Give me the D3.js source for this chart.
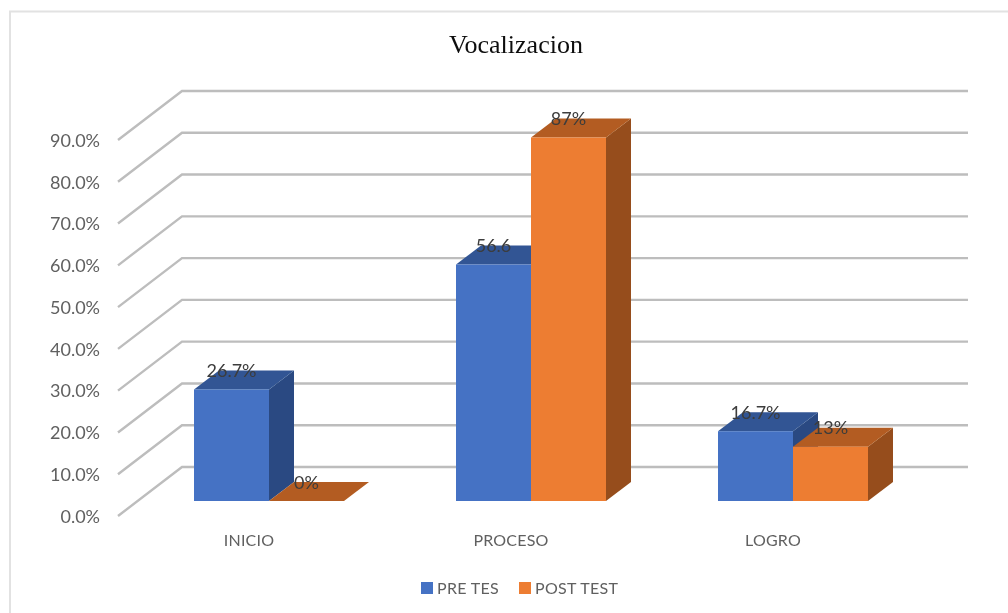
<!DOCTYPE html>
<html>
<head>
<meta charset="utf-8">
<script src="https://cdn.jsdelivr.net/npm/d3@7"></script>
<style>
    html, body { margin: 0; padding: 0; background: #fff; overflow: hidden; }
    svg { display: block; }
    text { font-family: Lato, sans-serif; fill: #595959; }
</style>
</head>
<body>
<div id="chart"></div>
<script>
var categories = ["INICIO", "PROCESO", "LOGRO"];
var seriesNames = ["PRE TES", "POST TEST"];
var preValues = [26.7, 56.6, 16.7];
var postValues = [0, 87, 13];
var preLabels = ["26.7%", "56.6", "16.7%"];
var postLabels = ["0%", "87%", "13%"];
var yTicks = [0, 10, 20, 30, 40, 50, 60, 70, 80, 90];

var WIDTH = 1008, HEIGHT = 613;

// one row per bar, blue first so the orange one paints over its side
var bars = [];
[preValues, postValues].forEach(function(values, s) {
    var labels = s === 0 ? preLabels : postLabels;
    categories.forEach(function(c, i) {
        bars.push({ category: c, series: seriesNames[s], value: values[i], label: labels[i] });
    });
});

var colors = {
    "PRE TES": { front: "#4472c4", top: "#315594", side: "#2a4a82" },
    "POST TEST": { front: "#ed7d31", top: "#b35c20", side: "#964e1b" }
};

var svg = d3.select("#chart").append("svg")
    .attr("width", WIDTH)
    .attr("height", HEIGHT);

// the reference is a slightly soft screenshot
var soft = svg.append("defs").append("filter").attr("id", "soft");
soft.append("feGaussianBlur").attr("stdDeviation", 0.5);

var g = svg.append("g").attr("filter", "url(#soft)");

// frame, the right side is cut off in the reference
g.append("path")
    .attr("d", "M10,613V11.5H1008")
    .attr("fill", "none")
    .attr("stroke", "#e2e2e2")
    .attr("stroke-width", 2);

g.append("text")
    .attr("x", 516)
    .attr("y", 53)
    .attr("text-anchor", "middle")
    .style("font-family", "'Liberation Serif', serif")
    .style("font-size", "26px")
    .style("fill", "#111")
    .text("Vocalizacion");

var x0 = d3.scaleBand().domain(categories).range([118, 904]);
var x1 = d3.scaleBand().domain(seriesNames).range([-75, 75]);
var y = d3.scaleLinear().domain([0, 90]).range([516, 140]);

// depth of the floor and where the bars sit in it
var floorDx = 64, floorDy = -49;
var barDx = 20, barDy = -15;
var sideDx = 25, sideDy = -19;

g.append("g").selectAll("path")
    .data(yTicks)
    .enter().append("path")
    .attr("d", function(d) {
        return "M118," + y(d) + "L" + (118 + floorDx) + "," + (y(d) + floorDy) +
            "H" + (904 + floorDx);
    })
    .attr("fill", "none")
    .attr("stroke", "#bdbdbd")
    .attr("stroke-width", 2.4);

var yAxis = g.append("g")
    .attr("transform", "translate(100,0.5)")
    .call(d3.axisLeft(y).tickValues(yTicks).tickSize(0).tickPadding(0)
        .tickFormat(function(d) { return d.toFixed(1) + "%"; }));
yAxis.select(".domain").remove();
yAxis.selectAll("text")
    .style("font-family", "Lato, sans-serif")
    .style("font-size", "18px")
    .style("fill", "#606060");

var xAxis = g.append("g")
    .attr("transform", "translate(0,540)")
    .call(d3.axisBottom(x0).tickSize(0).tickPadding(0));
xAxis.select(".domain").remove();
xAxis.selectAll("text")
    .attr("dy", "0.35em")
    .style("font-family", "Lato, sans-serif")
    .style("font-size", "16px")
    .style("letter-spacing", "0.2px")
    .style("fill", "#606060");

function barLeft(d) {
    return x0(d.category) + x0.bandwidth() / 2 + barDx + x1(d.series);
}
function barTop(d) {
    return y(d.value) + barDy;
}
var baseY = y(0) + barDy;

var bar = g.append("g").selectAll("g")
    .data(bars)
    .enter().append("g");

bar.filter(function(d) { return d.value > 0; }).append("path")
    .attr("d", function(d) {
        var r = barLeft(d) + x1.bandwidth();
        return "M" + r + "," + barTop(d) + "l" + sideDx + "," + sideDy +
            "V" + (baseY + sideDy) + "L" + r + "," + baseY + "Z";
    })
    .attr("fill", function(d) { return colors[d.series].side; });

bar.append("path")
    .attr("d", function(d) {
        var l = barLeft(d), w = x1.bandwidth();
        return "M" + l + "," + barTop(d) + "l" + sideDx + "," + sideDy +
            "h" + w + "l" + (-sideDx) + "," + (-sideDy) + "Z";
    })
    .attr("fill", function(d) { return colors[d.series].top; });

bar.append("rect")
    .attr("x", barLeft)
    .attr("y", barTop)
    .attr("width", x1.bandwidth())
    .attr("height", function(d) { return baseY - barTop(d); })
    .attr("fill", function(d) { return colors[d.series].front; });

// labels go on top of everything
g.append("g").selectAll("text")
    .data(bars)
    .enter().append("text")
    .attr("x", function(d) { return barLeft(d) + x1.bandwidth() / 2; })
    .attr("y", function(d) { return barTop(d) - 12.5; })
    .attr("text-anchor", "middle")
    .style("font-size", "18px")
    .style("fill", "#3c3c3c")
    .text(function(d) { return d.label; });

var legendX = { "PRE TES": 421, "POST TEST": 519 };
var legend = g.append("g").selectAll("g")
    .data(seriesNames)
    .enter().append("g")
    .attr("transform", function(d) { return "translate(" + legendX[d] + ",582)"; });

legend.append("rect")
    .attr("width", 12)
    .attr("height", 12)
    .attr("fill", function(d) { return colors[d].front; });

legend.append("text")
    .attr("x", 16)
    .attr("y", 12)
    .style("font-size", "16px")
    .style("letter-spacing", "0.3px")
    .style("fill", "#606060")
    .text(function(d) { return d; });
</script>
</body>
</html>
